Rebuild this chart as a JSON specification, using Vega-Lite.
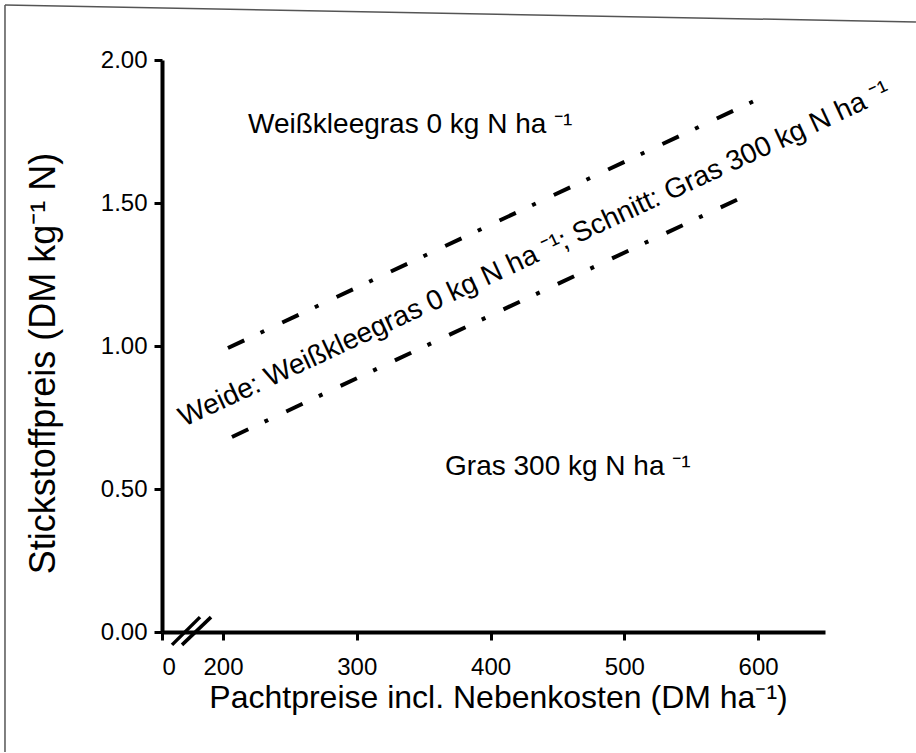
{
  "$schema": "https://vega.github.io/schema/vega-lite/v6.json",
  "width": 663,
  "height": 572,
  "autosize": "none",
  "padding": {"left": 162, "top": 60, "right": 91, "bottom": 121},
  "background": "white",
  "config": {
    "view": {"stroke": null},
    "font": "Liberation Sans",
    "axis": {
      "domainColor": "black",
      "domainWidth": 4,
      "tickColor": "black",
      "tickWidth": 3,
      "tickSize": 8,
      "grid": false,
      "labelFont": "Liberation Sans",
      "labelFontSize": 24,
      "labelColor": "black",
      "titleFont": "Liberation Sans",
      "titleFontSize": 32,
      "titleFontWeight": "normal",
      "titleColor": "black"
    }
  },
  "datasets": {
    "lines": [
      {"series": "upper", "x": 203.7, "y": 0.993},
      {"series": "upper", "x": 603.6, "y": 1.871},
      {"series": "lower", "x": 206.7, "y": 0.682},
      {"series": "lower", "x": 591.7, "y": 1.528}
    ],
    "labels": [
      {"x": 218.7, "y": 1.745, "label": "Weißkleegras 0 kg N ha ⁻¹"},
      {"x": 366, "y": 0.549, "label": "Gras 300 kg N ha ⁻¹"}
    ],
    "diag": [
      {"x": 435.5, "y": 1.294, "label": "Weide: Weißkleegras 0 kg N ha ⁻¹; Schnitt: Gras 300 kg N ha ⁻¹"}
    ],
    "breaks": [
      {"x": 32.8, "y": -0.045, "x2": 124.6, "y2": 0.052},
      {"x": 65.6, "y": -0.045, "x2": 160.7, "y2": 0.052}
    ],
    "frame": [
      {"x": -514.8, "y": 2.192, "x2": 718, "y2": 2.133},
      {"x": -514.8, "y": 2.192, "x2": -514.8, "y2": -0.42}
    ]
  },
  "encoding": {
    "x": {
      "field": "x",
      "type": "quantitative",
      "scale": {"domain": [0, 200, 650], "range": [0, 61, 663], "nice": false, "zero": false},
      "axis": {
        "values": [0, 200, 300, 400, 500, 600],
        "format": "d",
        "labelPadding": 15,
        "title": "Pachtpreise incl. Nebenkosten (DM ha⁻¹)",
        "titleX": 336,
        "titleY": 75,
        "titleAlign": "center",
        "titleBaseline": "alphabetic",
        "titleAnchor": "start"
      }
    },
    "y": {
      "field": "y",
      "type": "quantitative",
      "scale": {"domain": [0, 2], "nice": false, "zero": false},
      "axis": {
        "values": [0, 0.5, 1, 1.5, 2],
        "format": ".2f",
        "labelPadding": 7,
        "title": "Stickstoffpreis (DM kg⁻¹ N)",
        "titleFontSize": 36,
        "titleX": -108,
        "titleY": 303,
        "titleAngle": -90,
        "titleAlign": "center",
        "titleBaseline": "alphabetic",
        "titleAnchor": "start"
      }
    }
  },
  "layer": [
    {
      "data": {"name": "frame"},
      "mark": {"type": "rule", "color": "#555555", "strokeWidth": 1.5, "clip": false},
      "encoding": {"x2": {"field": "x2"}, "y2": {"field": "y2"}}
    },
    {
      "data": {"name": "breaks"},
      "mark": {"type": "rule", "color": "black", "strokeWidth": 3.5, "clip": false},
      "encoding": {"x2": {"field": "x2"}, "y2": {"field": "y2"}}
    },
    {
      "data": {"name": "lines"},
      "mark": {"type": "line", "color": "black", "strokeWidth": 4, "strokeDash": [18, 18, 4, 20], "strokeCap": "butt"},
      "encoding": {"detail": {"field": "series"}}
    },
    {
      "data": {"name": "labels"},
      "mark": {"type": "text", "align": "left", "baseline": "alphabetic", "fontSize": 28, "color": "black", "font": "Liberation Sans"},
      "encoding": {"text": {"field": "label"}}
    },
    {
      "data": {"name": "diag"},
      "mark": {"type": "text", "align": "center", "baseline": "alphabetic", "fontSize": 28, "angle": -25, "color": "black", "font": "Liberation Sans"},
      "encoding": {"text": {"field": "label"}}
    }
  ]
}
